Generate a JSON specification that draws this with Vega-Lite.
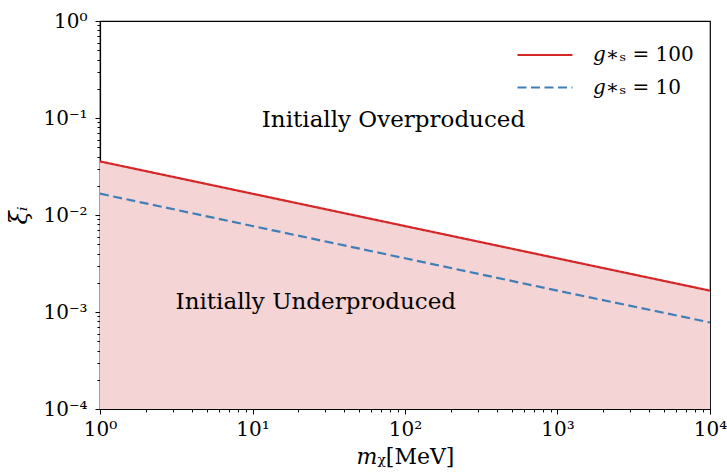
{
  "$schema": "https://vega.github.io/schema/vega-lite/v6.json",
  "width": 610,
  "height": 388,
  "autosize": "none",
  "padding": {"left": 100, "top": 21, "right": 17, "bottom": 67},
  "config": {
    "font": "DejaVu Serif",
    "view": {"stroke": "black", "strokeWidth": 1.2},
    "axis": {
      "grid": false,
      "domainColor": "black",
      "domainWidth": 1.2,
      "tickColor": "black",
      "tickWidth": 1,
      "labelColor": "black",
      "labelFont": "DejaVu Serif",
      "labelFontSize": 20,
      "titleFont": "DejaVu Serif",
      "titleFontSize": 22,
      "titleFontWeight": "normal",
      "titleColor": "black"
    },
    "legend": {"labelFont": "DejaVu Serif"}
  },
  "datasets": {
    "lines": [
      {"m": 1, "xi": 0.0357, "series": "𝑔∗ₛ = 100"},
      {"m": 10, "xi": 0.01657, "series": "𝑔∗ₛ = 100"},
      {"m": 100, "xi": 0.00769, "series": "𝑔∗ₛ = 100"},
      {"m": 1000, "xi": 0.00357, "series": "𝑔∗ₛ = 100"},
      {"m": 10000, "xi": 0.00166, "series": "𝑔∗ₛ = 100"},
      {"m": 1, "xi": 0.0166, "series": "𝑔∗ₛ = 10"},
      {"m": 10, "xi": 0.0077, "series": "𝑔∗ₛ = 10"},
      {"m": 100, "xi": 0.00358, "series": "𝑔∗ₛ = 10"},
      {"m": 1000, "xi": 0.00166, "series": "𝑔∗ₛ = 10"},
      {"m": 10000, "xi": 0.00078, "series": "𝑔∗ₛ = 10"}
    ],
    "labels": [
      {"m": 84, "xi": 0.096, "label": "Initially Overproduced"},
      {"m": 26, "xi": 0.00128, "label": "Initially Underproduced"}
    ]
  },
  "layer": [
    {
      "data": {"name": "lines"},
      "transform": [{"filter": "datum.series == '𝑔∗ₛ = 100'"}],
      "mark": {"type": "area", "color": "#f4d4d5", "opacity": 1},
      "encoding": {
        "x": {
          "field": "m", "type": "quantitative",
          "scale": {"type": "log", "domain": [1, 10000], "nice": false},
          "axis": {
            "title": "𝑚ᵪ[MeV]",
            "values": [1,2,3,4,5,6,7,8,9,10,20,30,40,50,60,70,80,90,100,200,300,400,500,600,700,800,900,1000,2000,3000,4000,5000,6000,7000,8000,9000,10000],
            "labelExpr": "abs(log(datum.value)/LN10 - round(log(datum.value)/LN10)) < 0.001 ? '10' + ['⁰','¹','²','³','⁴'][round(log(datum.value)/LN10)] : ''",
            "tickSize": {"condition": {"test": "abs(log(datum.value)/LN10 - round(log(datum.value)/LN10)) < 0.001", "value": 5}, "value": 3},
            "labelPadding": 5,
            "titlePadding": 7,
            "labelFlush": false,
            "labelOverlap": false
          }
        },
        "y": {
          "field": "xi", "type": "quantitative",
          "scale": {"type": "log", "domain": [0.0001, 1], "nice": false},
          "axis": {
            "title": "ξᵢ",
            "titleFontStyle": "italic",
            "titleFontSize": 24,
            "values": [0.0001,0.0002,0.0003,0.0004,0.0005,0.0006,0.0007,0.0008,0.0009,0.001,0.002,0.003,0.004,0.005,0.006,0.007,0.008,0.009,0.01,0.02,0.03,0.04,0.05,0.06,0.07,0.08,0.09,0.1,0.2,0.3,0.4,0.5,0.6,0.7,0.8,0.9,1],
            "labelExpr": "abs(log(datum.value)/LN10 - round(log(datum.value)/LN10)) < 0.001 ? '10' + (datum.value < 0.5 ? '⁻' : '') + ['⁰','¹','²','³','⁴'][abs(round(log(datum.value)/LN10))] : ''",
            "tickSize": {"condition": {"test": "abs(log(datum.value)/LN10 - round(log(datum.value)/LN10)) < 0.001", "value": 5}, "value": 3},
            "labelPadding": 8,
            "titlePadding": 11,
            "labelFlush": false,
            "labelOverlap": false
          }
        },
        "y2": {"datum": 0.0001}
      }
    },
    {
      "data": {"name": "lines"},
      "mark": {"type": "line", "strokeWidth": 2.2},
      "encoding": {
        "x": {"field": "m", "type": "quantitative"},
        "y": {"field": "xi", "type": "quantitative"},
        "color": {
          "field": "series", "type": "nominal",
          "scale": {"domain": ["𝑔∗ₛ = 100", "𝑔∗ₛ = 10"], "range": ["#d62728", "#3f7fb6"]},
          "legend": {
            "title": null,
            "orient": "none",
            "legendX": 430,
            "legendY": 19,
            "symbolType": "M-2,0L2,0",
            "symbolSize": 756,
            "symbolStrokeWidth": 2.2,
            "symbolFillColor": "transparent",
            "labelFontSize": 20,
            "labelColor": "black",
            "labelOffset": 33,
            "rowPadding": 7.5
          }
        },
        "strokeDash": {
          "field": "series", "type": "nominal",
          "scale": {"domain": ["𝑔∗ₛ = 100", "𝑔∗ₛ = 10"], "range": [[1, 0], [9, 4.5]]},
          "legend": null
        }
      }
    },
    {
      "data": {"name": "labels"},
      "mark": {"type": "text", "fontSize": 23, "color": "black", "align": "center", "baseline": "middle"},
      "encoding": {
        "x": {"field": "m", "type": "quantitative"},
        "y": {"field": "xi", "type": "quantitative"},
        "text": {"field": "label"}
      }
    }
  ]
}
